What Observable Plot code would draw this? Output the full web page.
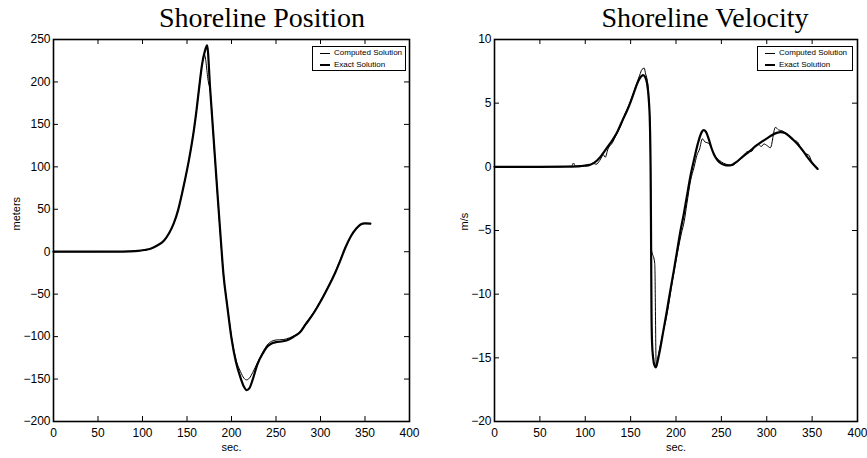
<!DOCTYPE html>
<html>
<head>
<meta charset="utf-8">
<script src="https://cdn.jsdelivr.net/npm/d3@7"></script>
<script src="https://cdn.jsdelivr.net/npm/@observablehq/plot@0.6"></script>
<style>
  body { margin: 0; background: #fff; }
  #wrap { position: relative; width: 867px; height: 458px; overflow: hidden; background: #fff; }
  .panel { position: absolute; top: 0; }
  .title { position: absolute; top: 4px; width: 300px; text-align: center; white-space: nowrap;
           font-family: "Liberation Serif", "Times New Roman", serif; font-size: 28px; line-height: 27px; color: #000; }
  .legend { position: absolute; top: 46px; height: 23px; border: 1px solid #000; background: #fff;
            font-family: "Liberation Sans", Arial, sans-serif; font-size: 8px; color: #000; }
  .legend .row { position: absolute; left: 0; right: 0; height: 12px; }
  .legend .sw { position: absolute; left: 7px; width: 10px; background: #000; }
  .legend .lab { position: absolute; left: 21px; top: 0; line-height: 12px; white-space: nowrap; }
</style>
</head>
<body>
<div id="wrap">
  <div id="left" class="panel" style="left:0px"></div>
  <div id="right" class="panel" style="left:433px"></div>
  <div id="t1" class="title" style="left:112px"></div>
  <div id="t2" class="title" style="left:555px"></div>
  <div id="lg1" class="legend" style="left:312px; width:92px"></div>
  <div id="lg2" class="legend" style="left:757px; width:94px"></div>
</div>
<script>
// ---------- data ----------
const titles = ["Shoreline Position", "Shoreline Velocity"];
const legendLabels = ["Computed Solution", "Exact Solution"];
const xLabel = "sec.";
const yLabels = ["meters", "m/s"];

const xTicks = [0, 50, 100, 150, 200, 250, 300, 350, 400];
const posTicks = [-200, -150, -100, -50, 0, 50, 100, 150, 200, 250];
const velTicks = [-20, -15, -10, -5, 0, 5, 10];

// Shoreline position (meters)
const posTimeExact = [0, 40, 70, 85, 95, 102, 109, 116, 124, 130, 135, 140, 144.3, 148, 152, 155, 157.7, 160.5, 163.3, 167, 170, 172.6,
  176, 180, 184, 188, 191, 195, 200, 205, 210, 214, 217, 220, 224, 229, 235, 240, 245, 250, 258, 265, 270, 277, 283, 290, 296, 303, 310,
  316, 322, 328, 334, 340, 345, 350, 356];
const posExact = [0, 0, 0.1, 0.4, 1, 2, 3.5, 7, 13, 22, 33, 49, 68, 86, 107, 125, 143, 165, 190, 221, 236, 243,
  192, 132, 72, 14, -27, -62, -102, -130, -148, -159, -163, -161, -150, -133, -120, -112, -108, -106.5, -105.5, -103, -100, -95, -86, -76, -66, -53, -39,
  -26, -11, 5, 18, 27, 32, 33.5, 33];

const posTimeComputed = [0, 40, 70, 85, 95, 102, 109, 116, 124, 130, 135, 140, 144.3, 148, 152, 155, 157.7, 160.5, 163.3, 167, 169.6,
  174, 176, 180, 184, 188, 191, 195, 200, 205, 210, 214, 217, 220, 224, 229, 235, 240, 245, 250, 258, 265, 270, 277, 283, 290, 296, 303, 310,
  316, 322, 328, 334, 340, 345, 350, 356];
const posComputed = [0, 0, 0.1, 0.4, 1, 2, 3.5, 7, 13, 22, 33, 49, 68, 86, 107, 125, 143, 165, 190, 221, 232,
  200, 190, 131, 71, 13, -27, -61, -100, -127, -141, -149, -151, -149, -142, -131, -119, -110, -105.5, -104, -103.5, -101.5, -99, -94, -85, -75, -65, -52, -38,
  -25, -10, 5, 18, 27, 32, 33.5, 33];

// Shoreline velocity (m/s)
const velTimeExact = [0, 50, 80, 95, 105, 113, 118, 120, 124, 130, 135, 142, 146, 150, 154, 157, 160, 163.8, 166, 168, 170, 171.2, 172,
  172.4, 172.7, 173, 173.6, 174.8, 176.3, 177.7, 179.5, 182, 186, 190, 194, 197.6, 201, 205, 208.6, 212, 216, 220, 224, 227.5, 230.5, 233,
  236, 239, 242, 246, 250, 255, 260, 266, 272, 278, 282, 288, 294, 300.7, 306, 311, 315.3, 320, 325, 330, 335, 340, 344.8, 350, 356];
const velExact = [0, 0, 0.02, 0.06, 0.15, 0.5, 0.9, 1.1, 1.5, 2.1, 2.7, 3.8, 4.4, 5.1, 5.9, 6.5, 6.95, 7.2, 7.05, 6.6, 5.3, 3.5, 0,
  -4, -8, -11.5, -13.8, -15.0, -15.6, -15.75, -15.35, -14.5, -12.9, -11.3, -9.6, -8.15, -6.7, -5.0, -3.7, -2.3, -0.7, 0.6, 1.8, 2.6, 2.88, 2.75,
  2.2, 1.5, 0.95, 0.5, 0.25, 0.12, 0.12, 0.35, 0.7, 1.05, 1.28, 1.65, 1.95, 2.25, 2.5, 2.67, 2.72, 2.65, 2.4, 2.07, 1.7, 1.25, 0.76, 0.3, -0.16];

const velTimeComputed = [0, 50, 62, 70, 80, 85, 87, 89, 93, 97, 100, 104, 108, 112, 116, 120, 122, 125, 130, 134, 137, 140, 144, 148, 152, 156,
  160, 162.5, 165, 166.5, 168, 170, 171.5, 172.2, 172.6, 176.6, 178.2, 180, 184, 190, 196, 202, 206, 209, 212, 216, 220, 223, 226, 229, 232,
  236, 240, 244, 248, 252, 258, 262, 266, 270, 275, 279, 283, 287, 291, 294, 297, 300.7, 304, 309.5, 313, 318, 323, 327, 330, 334, 338, 342,
  346, 350, 356];
const velComputed = [0, 0, 0.02, 0, 0.03, 0.05, 0.3, 0.05, 0.08, 0.05, 0.12, 0.08, 0.3, 0.2, 0.5, 0.95, 0.75, 1.4, 1.9, 2.5, 2.9, 3.4, 4.2, 4.8, 5.6, 6.4,
  7.2, 7.65, 7.75, 7.3, 6.9, 5.5, 2.5, -2, -6.3, -7.6, -15.6, -15.0, -13.6, -11.6, -9.0, -6.6, -5.2, -4.3, -2.9, -1.1, 0.0, 0.9, 1.4, 2.2, 1.95,
  1.85, 1.3, 0.75, 0.5, 0.3, 0.15, 0.1, 0.3, 0.55, 0.95, 1.2, 1.2, 1.6, 1.75, 1.6, 1.8, 1.65, 1.5, 3.1, 2.9, 2.8, 2.5, 2.35, 2.1, 1.95, 1.4, 1.05,
  0.95, 0.35, -0.2];

// ---------- helpers ----------
const zip = (ts, vs) => ts.map((t, i) => ({t, v: vs[i]}));
const FONT = '"Liberation Sans", Arial, sans-serif';

function panel({width, marginLeft, marginRight, yDomain, yTicks, yLabel, yLabelDx, exact, computed}) {
  const height = 458, marginTop = 39, marginBottom = 37;
  const innerW = width - marginLeft - marginRight;
  const innerH = height - marginTop - marginBottom;
  const tk = 5;
  const innerX = xTicks.slice(1, -1), innerY = yTicks.slice(1, -1);
  return Plot.plot({
    width, height, marginLeft, marginRight, marginTop, marginBottom,
    style: {fontFamily: FONT, fontSize: "12px", color: "#000", background: "transparent", overflow: "visible"},
    x: {domain: [0, 400]},
    y: {domain: yDomain},
    marks: [
      Plot.tickX(innerX, {x: d => d, insetTop: innerH - tk, stroke: "#000", strokeWidth: 1}),
      Plot.tickX(innerX, {x: d => d, insetBottom: innerH - tk, stroke: "#000", strokeWidth: 1}),
      Plot.tickY(innerY, {y: d => d, insetRight: innerW - tk, stroke: "#000", strokeWidth: 1}),
      Plot.tickY(innerY, {y: d => d, insetLeft: innerW - tk, stroke: "#000", strokeWidth: 1}),
      Plot.line(computed, {x: "t", y: "v", stroke: "#000", strokeWidth: 1, curve: "monotone-x"}),
      Plot.line(exact, {x: "t", y: "v", stroke: "#000", strokeWidth: 2.2, curve: "monotone-x"}),
      Plot.frame({stroke: "#000", strokeWidth: 1.6}),
      Plot.axisX(xTicks, {tickSize: 0, tickPadding: 7, label: null}),
      Plot.axisY(yTicks, {tickSize: 0, tickPadding: 3, label: null}),
      Plot.text([yLabel], {text: d => d, frameAnchor: "left", dx: yLabelDx, rotate: -90, fill: "#000", fontSize: 11}),
      Plot.text([xLabel], {text: d => d, frameAnchor: "bottom", dy: 29, fill: "#000", fontSize: 11})
    ]
  });
}

document.getElementById("left").append(panel({
  width: 433, marginLeft: 53, marginRight: 24, yDomain: [-200, 250], yTicks: posTicks,
  yLabel: yLabels[0], yLabelDx: -37,
  exact: zip(posTimeExact, posExact), computed: zip(posTimeComputed, posComputed)
}));
document.getElementById("right").append(panel({
  width: 434, marginLeft: 61, marginRight: 10, yDomain: [-20, 10], yTicks: velTicks,
  yLabel: yLabels[1], yLabelDx: -30,
  exact: zip(velTimeExact, velExact), computed: zip(velTimeComputed, velComputed)
}));

document.getElementById("t1").textContent = titles[0];
document.getElementById("t2").textContent = titles[1];

function legend(id) {
  const el = document.getElementById(id);
  legendLabels.forEach((lab, i) => {
    const row = document.createElement("div");
    row.className = "row";
    row.style.top = (i === 0 ? 0 : 12) + "px";
    const sw = document.createElement("div");
    sw.className = "sw";
    const h = i === 0 ? 1 : 2.2;
    sw.style.height = h + "px";
    sw.style.top = (6 - h / 2) + "px";
    const tx = document.createElement("div");
    tx.className = "lab";
    tx.textContent = lab;
    row.append(sw, tx);
    el.append(row);
  });
}
legend("lg1");
legend("lg2");
</script>
</body>
</html>
